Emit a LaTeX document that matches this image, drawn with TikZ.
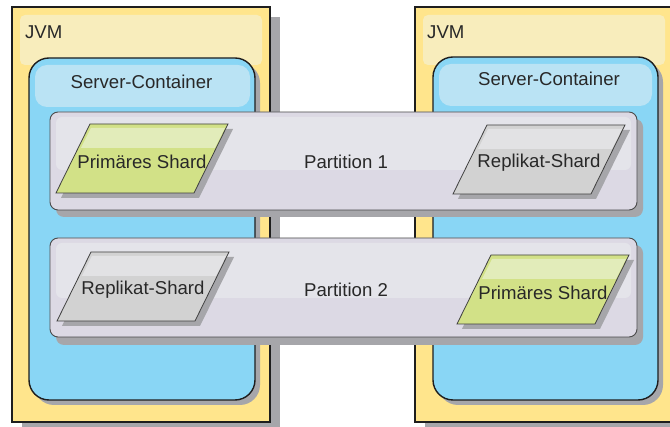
\documentclass[tikz,border=0pt]{standalone}
\usepackage{fontspec}
\setmainfont{Liberation Sans}
\definecolor{jvmfill}{RGB}{255,229,140}
\definecolor{jvmhl}{RGB}{248,237,188}
\definecolor{scfill}{RGB}{137,214,245}
\definecolor{schl}{RGB}{186,227,244}
\definecolor{partfill}{RGB}{220,217,228}
\definecolor{parthl}{RGB}{228,228,234}
\definecolor{greenfill}{RGB}{210,225,135}
\definecolor{greenhl}{RGB}{226,236,186}
\definecolor{grayfill}{RGB}{210,210,210}
\definecolor{grayhl}{RGB}{226,226,228}
\definecolor{shadowgray}{RGB}{166,166,170}
\definecolor{textgray}{RGB}{40,40,40}
\definecolor{edge}{RGB}{30,30,30}
\tikzset{
  outerbox/.style={fill=jvmfill, draw=edge, line width=1.4pt},
  scbox/.style={fill=scfill, draw=edge, line width=1.4pt, rounded corners=20pt},
  partbox/.style={fill=partfill, draw=edge!80, line width=0.9pt, rounded corners=8pt},
  shardline/.style={draw=edge!85, line width=0.8pt},
  lbl/.style={font=\fontsize{18.6}{21}\selectfont, text=textgray, inner sep=0pt},
}
\newcommand\shardAt[6]{%
  \fill[shadowgray] (#1+5,#2+5) -- ++(138,0) -- ++(-34,69) -- ++(-138,0) -- cycle;
  \fill[#3] (#1,#2) -- ++(138,0) -- ++(-34,69) -- ++(-138,0) -- cycle;
  \fill[#4] (#1+1,#2+4) -- ++(134,0) -- ++(-10,20) -- ++(-134,0) -- cycle;
  \draw[shardline] (#1,#2) -- ++(138,0) -- ++(-34,69) -- ++(-138,0) -- cycle;
  \node[lbl] (#5) at (#1+52,#2+38) {#6};
}
\begin{document}
\begin{tikzpicture}[x=1pt,y=-1pt]
\useasboundingbox (0,0) rectangle (670,427);
\clip (0,0) rectangle (670,427);
\fill[white] (0,0) rectangle (670,427);
% left JVM
\fill[shadowgray] (22,17) rectangle (280,432);
\draw[outerbox] (12,7) rectangle (270,422);
\fill[jvmhl, rounded corners=5pt] (20,15) rectangle (262,65);
\node[lbl, anchor=west] (jvm1) at (25,32) {JVM};
% left server container
\fill[shadowgray, rounded corners=20pt] (34,63) rectangle (260,405);
\draw[scbox] (29,58) rectangle (255,400);
\fill[schl, rounded corners=12pt] (35,65) rectangle (250,107);
\node[lbl] (sc1) at (141.5,82) {Server-Container};
% right JVM
\fill[shadowgray] (425,17) rectangle (700,432);
\draw[outerbox] (415,7) rectangle (690,422);
\fill[jvmhl, rounded corners=5pt] (423,15) rectangle (665,65);
\node[lbl, anchor=west] (jvm2) at (427,32) {JVM};
% right server container
\fill[shadowgray, rounded corners=20pt] (438,62) rectangle (663,405);
\draw[scbox] (433,57) rectangle (658,400);
\fill[schl, rounded corners=12pt] (439,64) rectangle (652,106);
\node[lbl] (sc2) at (549,79) {Server-Container};
% partition 1
\fill[shadowgray, rounded corners=8pt] (56,119) rectangle (643,217);
\draw[partbox] (50,112) rectangle (637,210);
\fill[parthl, rounded corners=6pt] (56,117) rectangle (631,170);
\node[lbl] (p1) at (346,162) {Partition 1};
\shardAt{90}{124}{greenfill}{greenhl}{s11}{Primäres Shard}
\shardAt{487}{125}{grayfill}{grayhl}{s12}{Replikat-Shard}
% partition 2
\fill[shadowgray, rounded corners=8pt] (56,245) rectangle (643,345);
\draw[partbox] (50,238) rectangle (637,337);
\fill[parthl, rounded corners=6pt] (56,243) rectangle (631,298);
\node[lbl] (p2) at (346,290) {Partition 2};
\shardAt{91}{252}{grayfill}{grayhl}{s21}{Replikat-Shard}
\shardAt{491}{255}{greenfill}{greenhl}{s22}{Primäres Shard}
\end{tikzpicture}
\end{document}
